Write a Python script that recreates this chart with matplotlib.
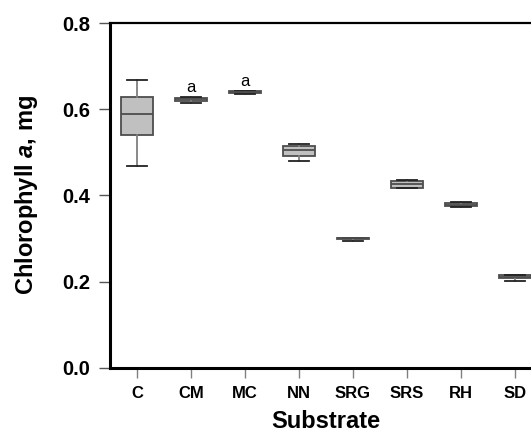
import matplotlib
matplotlib.use("Agg")
import matplotlib.pyplot as plt

plt.rcParams["font.family"] = ["Liberation Sans", "DejaVu Sans"]
plt.rcParams["mathtext.fontset"] = "custom"
plt.rcParams["mathtext.it"] = "Liberation Sans:italic:bold"
plt.rcParams["mathtext.rm"] = "Liberation Sans:bold"

# substrate categories and box statistics
substrates = ["C", "CM", "MC", "NN", "SRG", "SRS", "RH", "SD"]
whislo = [0.469, 0.615, 0.635, 0.480, 0.294, 0.417, 0.374, 0.202]
q1     = [0.540, 0.619, 0.639, 0.491, 0.299, 0.418, 0.375, 0.208]
med    = [0.589, 0.624, 0.641, 0.506, 0.301, 0.427, 0.378, 0.210]
q3     = [0.629, 0.627, 0.642, 0.514, 0.302, 0.433, 0.382, 0.216]
whishi = [0.669, 0.628, 0.642, 0.520, 0.302, 0.436, 0.384, 0.216]
letters = {"CM": "a", "MC": "a"}

stats = []
for i, s in enumerate(substrates):
    stats.append(dict(label=s, whislo=whislo[i], q1=q1[i], med=med[i],
                      q3=q3[i], whishi=whishi[i], fliers=[]))

fig = plt.figure(figsize=(5.31, 4.34), dpi=100)
ax = fig.add_axes([0.2072, 0.1528, 0.8135, 0.7935])

ax.bxp(stats, positions=range(len(substrates)), widths=0.6, patch_artist=True,
       showfliers=False, capwidths=0.36,
       boxprops=dict(facecolor="#c0c0c0", edgecolor="#4d4d4d", lw=1.3),
       medianprops=dict(color="#4d4d4d", lw=1.3),
       whiskerprops=dict(color="#808080", lw=1.3),
       capprops=dict(color="#222222", lw=1.3))

for i, s in enumerate(substrates):
    if s in letters:
        ax.text(i, whishi[i] + 0.006, letters[s], ha="center", va="bottom", fontsize=12)

ax.set_xlim(-0.5, 7.5)
ax.set_ylim(0, 0.8)
ax.set_yticks([0.0, 0.2, 0.4, 0.6, 0.8])
ax.set_yticklabels(["0.0", "0.2", "0.4", "0.6", "0.8"], fontsize=14.5, fontweight="bold")
ax.set_xticks(range(len(substrates)))
ax.set_xticklabels(substrates, fontsize=12, fontweight="bold")
ax.tick_params(axis="y", length=8, width=1, color="#555555", pad=6)
ax.tick_params(axis="x", length=7, width=1, color="#808080", pad=6)

for side in ["left", "bottom"]:
    ax.spines[side].set_linewidth(2.2)
ax.spines["top"].set_linewidth(1.6)
ax.spines["right"].set_visible(False)

ax.set_xlabel("Substrate", fontsize=17, fontweight="bold", labelpad=7)
ax.set_ylabel("Chlorophyll $a$, mg", fontsize=17, fontweight="bold", labelpad=16)

fig.savefig("out.png", dpi=100)
